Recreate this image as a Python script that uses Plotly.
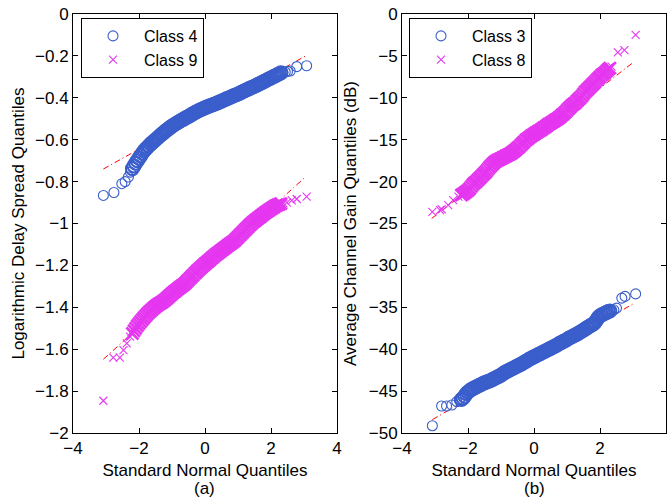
import plotly.graph_objects as go

# ---------------- data ----------------
# dense middle part of the quantile axis (shared by all series)
Q_GRID = [-2.20, -2.15, -2.10, -2.05, -2.00, -1.95, -1.90, -1.85, -1.80, -1.75,
          -1.70, -1.65, -1.60, -1.55, -1.50, -1.45, -1.40, -1.35, -1.30, -1.25,
          -1.20, -1.15, -1.10, -1.05, -1.00, -0.95, -0.90, -0.85, -0.80, -0.75,
          -0.70, -0.65, -0.60, -0.55, -0.50, -0.45, -0.40, -0.35, -0.30, -0.25,
          -0.20, -0.15, -0.10, -0.05, 0.00, 0.05, 0.10, 0.15, 0.20, 0.25,
          0.30, 0.35, 0.40, 0.45, 0.50, 0.55, 0.60, 0.65, 0.70, 0.75,
          0.80, 0.85, 0.90, 0.95, 1.00, 1.05, 1.10, 1.15, 1.20, 1.25,
          1.30, 1.35, 1.40, 1.45, 1.50, 1.55, 1.60, 1.65, 1.70, 1.75,
          1.80, 1.85, 1.90, 1.95, 2.00, 2.05, 2.10, 2.15, 2.20, 2.25, 2.30]

# (a) Class 4 - logarithmic delay spread quantiles
C4_LOW_X = [-3.08, -2.76, -2.52, -2.42, -2.32, -2.26]
C4_LOW_Y = [-0.866, -0.852, -0.810, -0.800, -0.778, -0.755]
C4_MID_Y = [-0.738, -0.725, -0.712, -0.700, -0.688, -0.677, -0.665, -0.654, -0.645, -0.637,
            -0.629, -0.621, -0.614, -0.607, -0.600, -0.593, -0.586, -0.579, -0.572, -0.566,
            -0.559, -0.553, -0.547, -0.541, -0.535, -0.530, -0.525, -0.520, -0.515, -0.511,
            -0.506, -0.502, -0.497, -0.493, -0.489, -0.484, -0.479, -0.475, -0.470, -0.466,
            -0.462, -0.458, -0.455, -0.451, -0.448, -0.444, -0.441, -0.438, -0.435, -0.432,
            -0.429, -0.426, -0.423, -0.419, -0.416, -0.412, -0.409, -0.405, -0.402, -0.398,
            -0.395, -0.391, -0.388, -0.385, -0.382, -0.378, -0.374, -0.370, -0.366, -0.363,
            -0.359, -0.355, -0.352, -0.348, -0.345, -0.341, -0.337, -0.333, -0.329, -0.325,
            -0.321, -0.317, -0.313, -0.309, -0.305, -0.301, -0.297, -0.293, -0.289, -0.285, -0.281]
C4_HIGH_X = [2.36, 2.43, 2.50, 2.58, 2.78, 3.08]
C4_HIGH_Y = [-0.279, -0.277, -0.274, -0.272, -0.251, -0.247]
C4_REF_X = [-3.08, 3.05]
C4_REF_Y = [-0.740, -0.200]

# (a) Class 9
C9_LOW_X = [-3.08, -2.78, -2.58, -2.47, -2.37, -2.27]
C9_LOW_Y = [-1.846, -1.640, -1.640, -1.604, -1.572, -1.540]
C9_MID_Y = [-1.525, -1.512, -1.500, -1.488, -1.478, -1.468, -1.459, -1.450, -1.441, -1.432,
            -1.424, -1.417, -1.410, -1.403, -1.396, -1.390, -1.385, -1.380, -1.375, -1.369,
            -1.363, -1.356, -1.349, -1.342, -1.335, -1.328, -1.322, -1.316, -1.310, -1.304,
            -1.298, -1.292, -1.285, -1.277, -1.269, -1.261, -1.253, -1.245, -1.237, -1.229,
            -1.221, -1.214, -1.207, -1.200, -1.193, -1.186, -1.180, -1.173, -1.166, -1.159,
            -1.152, -1.146, -1.140, -1.134, -1.128, -1.122, -1.116, -1.110, -1.104, -1.099,
            -1.093, -1.088, -1.081, -1.073, -1.065, -1.057, -1.049, -1.041, -1.033, -1.025,
            -1.017, -1.009, -1.002, -0.995, -0.989, -0.982, -0.976, -0.970, -0.964, -0.958,
            -0.952, -0.946, -0.941, -0.935, -0.930, -0.925, -0.920, -0.915, -0.911, -0.908, -0.905]
C9_HIGH_X = [2.38, 2.48, 2.63, 2.78, 3.08]
C9_HIGH_Y = [-0.904, -0.900, -0.890, -0.883, -0.872]
C9_REF_X = [-3.08, 3.00]
C9_REF_Y = [-1.648, -0.784]

# (b) Class 3 - average channel gain quantiles (dB)
C3_LOW_X = [-3.08, -2.80, -2.65, -2.49, -2.34, -2.26]
C3_LOW_Y = [-49.13, -46.78, -46.78, -46.66, -46.26, -46.10]
C3_MID_Y = [-46.0, -45.85, -45.6, -45.3, -45.1, -44.95, -44.8, -44.7, -44.6, -44.5,
            -44.4, -44.3, -44.2, -44.1, -44.0, -43.95, -43.85, -43.8, -43.7, -43.6,
            -43.5, -43.4, -43.3, -43.2, -43.1, -42.95, -42.8, -42.7, -42.6, -42.5,
            -42.4, -42.3, -42.2, -42.1, -42.0, -41.9, -41.8, -41.7, -41.55, -41.45,
            -41.35, -41.2, -41.1, -41.0, -40.9, -40.8, -40.7, -40.6, -40.5, -40.4,
            -40.3, -40.2, -40.1, -40.0, -39.9, -39.8, -39.7, -39.6, -39.5, -39.35,
            -39.25, -39.15, -39.05, -38.95, -38.85, -38.7, -38.6, -38.5, -38.4, -38.3,
            -38.2, -38.1, -37.95, -37.85, -37.7, -37.6, -37.45, -37.35, -37.2, -37.1,
            -37.0, -36.8, -36.5, -36.2, -36.0, -35.9, -35.8, -35.7, -35.6, -35.5, -35.45]
C3_HIGH_X = [2.35, 2.42, 2.50, 2.66, 2.76, 3.08]
C3_HIGH_Y = [-35.4, -35.3, -35.1, -33.9, -33.7, -33.4]
C3_REF_X = [-3.08, 3.00]
C3_REF_Y = [-48.4, -34.6]

# (b) Class 8
C8_LOW_X = [-3.08, -2.85, -2.80, -2.60, -2.45, -2.29]
C8_LOW_Y = [-23.6, -23.4, -23.3, -22.8, -22.2, -21.8]
C8_MID_Y = [-21.6, -21.5, -21.35, -21.2, -21.05, -20.85, -20.6, -20.35, -20.15, -20.0,
            -19.8, -19.6, -19.4, -19.2, -19.0, -18.8, -18.55, -18.3, -18.1, -17.9,
            -17.7, -17.55, -17.45, -17.35, -17.25, -17.15, -17.05, -16.95, -16.85, -16.75,
            -16.65, -16.5, -16.35, -16.2, -16.0, -15.85, -15.65, -15.45, -15.25, -15.05,
            -14.9, -14.75, -14.6, -14.45, -14.35, -14.2, -14.1, -13.95, -13.85, -13.7,
            -13.55, -13.45, -13.3, -13.15, -13.05, -12.9, -12.8, -12.65, -12.55, -12.4,
            -12.25, -12.05, -11.9, -11.7, -11.5, -11.3, -11.1, -10.9, -10.75, -10.6,
            -10.4, -10.2, -10.0, -9.8, -9.55, -9.3, -9.1, -8.9, -8.7, -8.5,
            -8.3, -8.1, -7.9, -7.7, -7.5, -7.3, -7.15, -7.0, -6.8, -6.6, -6.45]
C8_HIGH_X = [2.35, 2.54, 2.74, 3.08]
C8_HIGH_Y = [-6.29, -4.57, -4.30, -2.50]
C8_REF_X = [-3.10, 3.00]
C8_REF_Y = [-24.4, -5.8]

X_TICKS = [-4, -2, 0, 2, 4]
X_TICK_TEXT = ["\u22124", "\u22122", "0", "2", "4"]
YA_TICKS = [0, -0.2, -0.4, -0.6, -0.8, -1, -1.2, -1.4, -1.6, -1.8, -2]
YA_TICK_TEXT = ["0", "\u22120.2", "\u22120.4", "\u22120.6", "\u22120.8", "\u22121",
                "\u22121.2", "\u22121.4", "\u22121.6", "\u22121.8", "\u22122"]
YB_TICKS = [0, -5, -10, -15, -20, -25, -30, -35, -40, -45, -50]
YB_TICK_TEXT = ["0", "\u22125", "\u221210", "\u221215", "\u221220", "\u221225",
                "\u221230", "\u221235", "\u221240", "\u221245", "\u221250"]

# ---------------- styling ----------------
W, H = 669, 498
BLUE = "#3a5ecb"
MAG = "#e536f0"
RED = "#ff0000"
FONT = "Liberation Sans, Arial, Helvetica, sans-serif"
FS = 17
DASHDOT = "6px,3px,1px,3px"

def px_x(p):
    return p / W

def px_y(p):
    return 1 - p / H

fig = go.Figure()

def add_ref(x, y, xa, ya):
    fig.add_trace(go.Scatter(x=x, y=y, mode="lines", xaxis=xa, yaxis=ya,
                             line=dict(color=RED, width=1, dash=DASHDOT),
                             showlegend=False, hoverinfo="skip"))

def add_series(name, symbol, color, lx, ly, my, hx, hy, xa, ya, leg, size, band_size, band_lw):
    # dense central run of quantiles (overlapping markers form a solid band)
    fig.add_trace(go.Scatter(x=Q_GRID, y=my, mode="markers", name=name, xaxis=xa, yaxis=ya,
                             legend=leg, showlegend=False,
                             marker=dict(symbol=symbol, size=band_size, color=color,
                                         line=dict(width=band_lw, color=color))))
    # sparse tails (individual markers) - also carries the legend entry
    fig.add_trace(go.Scatter(x=lx + hx, y=ly + hy, mode="markers", name=name,
                             xaxis=xa, yaxis=ya, legend=leg,
                             marker=dict(symbol=symbol, size=size, color=color,
                                         line=dict(width=1.1, color=color))))

# left panel
add_ref(C4_REF_X, C4_REF_Y, "x", "y")
add_ref(C9_REF_X, C9_REF_Y, "x", "y")
add_series("Class 4", "circle-open", BLUE, C4_LOW_X, C4_LOW_Y, C4_MID_Y, C4_HIGH_X, C4_HIGH_Y,
           "x", "y", "legend", 10, 13, 2.0)
add_series("Class 9", "x-thin-open", MAG, C9_LOW_X, C9_LOW_Y, C9_MID_Y, C9_HIGH_X, C9_HIGH_Y,
           "x", "y", "legend", 8, 12, 2.6)

# right panel
add_ref(C3_REF_X, C3_REF_Y, "x2", "y2")
add_ref(C8_REF_X, C8_REF_Y, "x2", "y2")
add_series("Class 3", "circle-open", BLUE, C3_LOW_X, C3_LOW_Y, C3_MID_Y, C3_HIGH_X, C3_HIGH_Y,
           "x2", "y2", "legend2", 10, 13, 2.0)
add_series("Class 8", "x-thin-open", MAG, C8_LOW_X, C8_LOW_Y, C8_MID_Y, C8_HIGH_X, C8_HIGH_Y,
           "x2", "y2", "legend2", 8, 12, 2.6)

axis_common = dict(showline=True, linecolor="black", linewidth=1, mirror="ticks",
                   ticks="inside", ticklen=5, tickcolor="black", tickwidth=1,
                   showgrid=False, zeroline=False, automargin=False,
                   tickfont=dict(family=FONT, size=FS, color="black"))

yd = [px_y(433), px_y(14)]
legend_common = dict(xanchor="left", yanchor="top",
                     bgcolor="white", bordercolor="black", borderwidth=1,
                     font=dict(family=FONT, size=16, color="black"), itemwidth=52,
                     tracegroupgap=0, entrywidth=62)
fig.update_layout(
    width=W, height=H,
    margin=dict(l=0, r=0, t=0, b=0, autoexpand=False),
    paper_bgcolor="white", plot_bgcolor="white",
    font=dict(family=FONT, size=FS, color="black"),
    xaxis=dict(domain=[px_x(73), px_x(337)], range=[-4, 4], anchor="y",
               tickvals=X_TICKS, ticktext=X_TICK_TEXT,
               title=dict(text="Standard Normal Quantiles", standoff=6,
                          font=dict(family=FONT, size=FS)),
               **axis_common),
    yaxis=dict(domain=yd, range=[-2, 0], anchor="x",
               tickvals=YA_TICKS, ticktext=YA_TICK_TEXT,
               title=dict(text="Logarithmic Delay Spread Quantiles", standoff=6,
                          font=dict(family=FONT, size=FS)),
               **axis_common),
    xaxis2=dict(domain=[px_x(402), px_x(666)], range=[-4, 4], anchor="y2",
                tickvals=X_TICKS, ticktext=X_TICK_TEXT,
                title=dict(text="Standard Normal Quantiles", standoff=6,
                           font=dict(family=FONT, size=FS)),
                **axis_common),
    yaxis2=dict(domain=yd, range=[-50, 0], anchor="x2",
                tickvals=YB_TICKS, ticktext=YB_TICK_TEXT,
                title=dict(text="Average Channel Gain Quantiles (dB)", standoff=7,
                           font=dict(family=FONT, size=FS)),
                **axis_common),
    legend=dict(x=px_x(81), y=px_y(18), **legend_common),
    legend2=dict(x=px_x(409), y=px_y(18), **legend_common),
    annotations=[
        dict(text="(a)", x=(px_x(73) + px_x(337)) / 2, y=px_y(488), xref="paper", yref="paper",
             showarrow=False, xanchor="center", yanchor="middle",
             font=dict(family=FONT, size=FS, color="black")),
        dict(text="(b)", x=(px_x(402) + px_x(666)) / 2, y=px_y(488), xref="paper", yref="paper",
             showarrow=False, xanchor="center", yanchor="middle",
             font=dict(family=FONT, size=FS, color="black")),
    ],
)

fig.write_html("out.html")
